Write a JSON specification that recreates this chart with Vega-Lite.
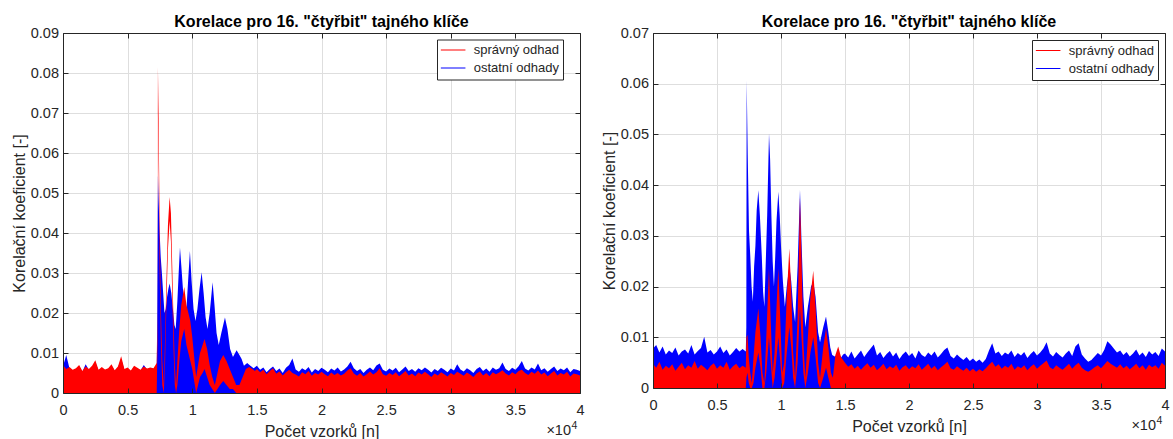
{
"$schema": "https://vega.github.io/schema/vega-lite/v6.json",
"padding": {"left": 11, "top": 13, "right": 2, "bottom": 0},
"background": "white",
"spacing": 16,
"config": {
  "font": "Liberation Sans",
  "view": {"stroke": null},
  "axis": {"labelColor": "#262626", "titleColor": "#262626", "labelFont": "Liberation Sans", "titleFont": "Liberation Sans", "labelFontSize": 14.5, "titleFontSize": 16, "titleFontWeight": "normal", "gridColor": "#dedede", "gridWidth": 1, "tickColor": "#262626", "domainColor": "#262626", "labelFlush": false, "labelOverlap": false},
  "title": {"font": "Liberation Sans", "fontSize": 16, "fontWeight": "bold", "color": "#000000", "offset": -4.8, "baseline": "alphabetic", "anchor": "middle"}
},
"resolve": {"scale": {"color": "independent"}},
"datasets": {
"Lo": [
{"x":0,"hi":0.0066},{"x":250,"hi":0.0095},{"x":500,"hi":0.0062},{"x":750,"hi":0.0056},{"x":1000,"hi":0.0060},{"x":1250,"hi":0.0066},{"x":1500,"hi":0.0053},{"x":1750,"hi":0.0072},{"x":2000,"hi":0.0058},{"x":2250,"hi":0.0064},{"x":2500,"hi":0.0076},{"x":2750,"hi":0.0056},{"x":3000,"hi":0.0062},{"x":3250,"hi":0.0057},{"x":3500,"hi":0.0060},{"x":3750,"hi":0.0068},{"x":4000,"hi":0.0055},{"x":4250,"hi":0.0063},{"x":4500,"hi":0.0085},{"x":4750,"hi":0.0058},{"x":5000,"hi":0.0061},{"x":5250,"hi":0.0054},{"x":5500,"hi":0.0065},{"x":5750,"hi":0.0061},{"x":6000,"hi":0.0056},{"x":6250,"hi":0.0070},{"x":6500,"hi":0.0059},{"x":6750,"hi":0.0061},{"x":7000,"hi":0.0060},
{"x":7250,"hi":0.0065},{"x":7280,"hi":0.012},{"x":7345,"hi":0.0544},{"x":7400,"hi":0.048},{"x":7480,"hi":0.040},{"x":7560,"hi":0.034},{"x":7650,"hi":0.030},{"x":7750,"hi":0.025},{"x":7850,"hi":0.020},{"x":7950,"hi":0.021},{"x":8050,"hi":0.024},{"x":8150,"hi":0.026},{"x":8250,"hi":0.0274},{"x":8380,"hi":0.025},{"x":8500,"hi":0.021},{"x":8620,"hi":0.017},{"x":8720,"hi":0.016},{"x":8850,"hi":0.023},{"x":8950,"hi":0.030},{"x":9050,"hi":0.0364},{"x":9150,"hi":0.032},{"x":9280,"hi":0.026},{"x":9420,"hi":0.021},{"x":9550,"hi":0.021},{"x":9680,"hi":0.028},{"x":9820,"hi":0.0355},{"x":9950,"hi":0.028},{"x":10100,"hi":0.021},{"x":10250,"hi":0.018},{"x":10400,"hi":0.021},{"x":10560,"hi":0.026},{"x":10725,"hi":0.0302},{"x":10880,"hi":0.025},{"x":11030,"hi":0.019},{"x":11180,"hi":0.016},{"x":11350,"hi":0.020},{"x":11575,"hi":0.0277},{"x":11720,"hi":0.022},{"x":11880,"hi":0.015},{"x":12050,"hi":0.012},{"x":12250,"hi":0.015},{"x":12530,"hi":0.0189},{"x":12720,"hi":0.016},{"x":12930,"hi":0.011},{"x":13150,"hi":0.009},{"x":13430,"hi":0.0107},{"x":13650,"hi":0.0095},{"x":13820,"hi":0.0085},{"x":14000,"hi":0.0068},{"x":14250,"hi":0.0075},{"x":14500,"hi":0.0068},{"x":14750,"hi":0.0062},
{"x":15000,"hi":0.0068},{"x":15250,"hi":0.0058},{"x":15500,"hi":0.0064},{"x":15750,"hi":0.0052},{"x":16000,"hi":0.0060},{"x":16250,"hi":0.0066},{"x":16500,"hi":0.0055},{"x":16750,"hi":0.0061},{"x":17000,"hi":0.0050},{"x":17250,"hi":0.0063},{"x":17500,"hi":0.0070},{"x":17750,"hi":0.0086},{"x":18000,"hi":0.0059},{"x":18250,"hi":0.0053},{"x":18500,"hi":0.0062},{"x":18750,"hi":0.0057},{"x":19000,"hi":0.0065},{"x":19250,"hi":0.0051},{"x":19500,"hi":0.0060},{"x":19750,"hi":0.0055},{"x":20000,"hi":0.0063},{"x":20250,"hi":0.0058},{"x":20500,"hi":0.0052},{"x":20750,"hi":0.0061},{"x":21000,"hi":0.0056},{"x":21250,"hi":0.0064},{"x":21500,"hi":0.0054},{"x":21750,"hi":0.0059},{"x":22000,"hi":0.0066},{"x":22250,"hi":0.0078},{"x":22500,"hi":0.0062},{"x":22750,"hi":0.0055},{"x":23000,"hi":0.0060},{"x":23250,"hi":0.0050},{"x":23500,"hi":0.0058},{"x":23750,"hi":0.0064},{"x":24000,"hi":0.0057},{"x":24250,"hi":0.0069},{"x":24500,"hi":0.0074},{"x":24750,"hi":0.0058},{"x":25000,"hi":0.0054},{"x":25250,"hi":0.0061},{"x":25500,"hi":0.0056},{"x":25750,"hi":0.0063},{"x":26000,"hi":0.0052},{"x":26250,"hi":0.0059},{"x":26500,"hi":0.0066},{"x":26750,"hi":0.0055},{"x":27000,"hi":0.0060},{"x":27250,"hi":0.0053},{"x":27500,"hi":0.0062},{"x":27750,"hi":0.0057},{"x":28000,"hi":0.0064},{"x":28250,"hi":0.0058},{"x":28500,"hi":0.0051},{"x":28750,"hi":0.0060},{"x":29000,"hi":0.0055},{"x":29250,"hi":0.0063},{"x":29500,"hi":0.0058},{"x":29750,"hi":0.0052},{"x":30000,"hi":0.0061},{"x":30250,"hi":0.0056},{"x":30500,"hi":0.0072},{"x":30750,"hi":0.0059},{"x":31000,"hi":0.0054},{"x":31250,"hi":0.0062},{"x":31500,"hi":0.0057},{"x":31750,"hi":0.0050},{"x":32000,"hi":0.0060},{"x":32250,"hi":0.0065},{"x":32500,"hi":0.0055},{"x":32750,"hi":0.0061},{"x":33000,"hi":0.0053},{"x":33250,"hi":0.0064},{"x":33500,"hi":0.0058},{"x":33750,"hi":0.0062},{"x":34000,"hi":0.0076},{"x":34250,"hi":0.0060},{"x":34500,"hi":0.0055},{"x":34750,"hi":0.0063},{"x":35000,"hi":0.0058},{"x":35250,"hi":0.0067},{"x":35500,"hi":0.0080},{"x":35750,"hi":0.0061},{"x":36000,"hi":0.0056},{"x":36250,"hi":0.0064},{"x":36500,"hi":0.0059},{"x":36750,"hi":0.0074},{"x":37000,"hi":0.0057},{"x":37250,"hi":0.0062},{"x":37500,"hi":0.0053},{"x":37750,"hi":0.0060},{"x":38000,"hi":0.0066},{"x":38250,"hi":0.0055},{"x":38500,"hi":0.0061},{"x":38750,"hi":0.0057},{"x":39000,"hi":0.0064},{"x":39250,"hi":0.0052},{"x":39500,"hi":0.0060},{"x":39750,"hi":0.0058},{"x":40000,"hi":0.0055}
],
"Ls": [
{"x":0,"hi":0.0070,"lo":0},{"x":250,"hi":0.0060,"lo":0},{"x":500,"hi":0.0065,"lo":0},{"x":750,"hi":0.0058,"lo":0},{"x":1000,"hi":0.0062,"lo":0},{"x":1250,"hi":0.0070,"lo":0},{"x":1500,"hi":0.0055,"lo":0},{"x":1750,"hi":0.0066,"lo":0},{"x":2000,"hi":0.0060,"lo":0},{"x":2250,"hi":0.0068,"lo":0},{"x":2500,"hi":0.0082,"lo":0},{"x":2750,"hi":0.0058,"lo":0},{"x":3000,"hi":0.0065,"lo":0},{"x":3250,"hi":0.0059,"lo":0},{"x":3500,"hi":0.0062,"lo":0},{"x":3750,"hi":0.0072,"lo":0},{"x":4000,"hi":0.0057,"lo":0},{"x":4250,"hi":0.0066,"lo":0},{"x":4500,"hi":0.0092,"lo":0},{"x":4750,"hi":0.0060,"lo":0},{"x":5000,"hi":0.0064,"lo":0},{"x":5250,"hi":0.0056,"lo":0},{"x":5500,"hi":0.0068,"lo":0},{"x":5750,"hi":0.0063,"lo":0},{"x":6000,"hi":0.0058,"lo":0},{"x":6250,"hi":0.0066,"lo":0},{"x":6500,"hi":0.0061,"lo":0},{"x":6750,"hi":0.0064,"lo":0},{"x":7000,"hi":0.0062,"lo":0},
{"x":7250,"hi":0.0075,"lo":0},{"x":7300,"hi":0.020,"lo":0.010},{"x":7345,"hi":0.0815,"lo":0.070},{"x":7400,"hi":0.068,"lo":0.055},{"x":7480,"hi":0.040,"lo":0.030},{"x":7580,"hi":0.020,"lo":0.012},{"x":7680,"hi":0.008,"lo":0.002},{"x":7800,"hi":0.002,"lo":0},{"x":7900,"hi":0.014,"lo":0.008},{"x":8000,"hi":0.028,"lo":0.022},{"x":8120,"hi":0.042,"lo":0.036},{"x":8250,"hi":0.049,"lo":0.043},{"x":8350,"hi":0.045,"lo":0.038},{"x":8450,"hi":0.032,"lo":0.025},{"x":8550,"hi":0.018,"lo":0.011},{"x":8650,"hi":0.007,"lo":0.002},{"x":8750,"hi":0.002,"lo":0},{"x":8850,"hi":0.008,"lo":0.002},{"x":9000,"hi":0.016,"lo":0.008},{"x":9150,"hi":0.022,"lo":0.013},{"x":9380,"hi":0.0265,"lo":0.016},{"x":9550,"hi":0.022,"lo":0.012},{"x":9700,"hi":0.020,"lo":0.010},{"x":9850,"hi":0.018,"lo":0.008},{"x":10000,"hi":0.014,"lo":0.006},{"x":10150,"hi":0.009,"lo":0.003},{"x":10300,"hi":0.004,"lo":0},{"x":10450,"hi":0.007,"lo":0.002},{"x":10600,"hi":0.010,"lo":0.004},{"x":10800,"hi":0.012,"lo":0.005},{"x":10950,"hi":0.0135,"lo":0.006},{"x":11150,"hi":0.011,"lo":0.004},{"x":11350,"hi":0.007,"lo":0.002},{"x":11550,"hi":0.004,"lo":0.001},{"x":11750,"hi":0.002,"lo":0},{"x":11950,"hi":0.005,"lo":0.001},{"x":12150,"hi":0.008,"lo":0.002},{"x":12400,"hi":0.0095,"lo":0.003},{"x":12650,"hi":0.008,"lo":0.002},{"x":12900,"hi":0.006,"lo":0.001},{"x":13150,"hi":0.004,"lo":0.001},{"x":13400,"hi":0.002,"lo":0},{"x":13650,"hi":0.002,"lo":0},{"x":13900,"hi":0.004,"lo":0},{"x":14150,"hi":0.006,"lo":0},{"x":14400,"hi":0.0065,"lo":0},{"x":14650,"hi":0.006,"lo":0},{"x":14850,"hi":0.0055,"lo":0},
{"x":15000,"hi":0.0060,"lo":0},{"x":15250,"hi":0.0052,"lo":0},{"x":15500,"hi":0.0058,"lo":0},{"x":15750,"hi":0.0047,"lo":0},{"x":16000,"hi":0.0055,"lo":0},{"x":16250,"hi":0.0062,"lo":0},{"x":16500,"hi":0.0048,"lo":0},{"x":16750,"hi":0.0054,"lo":0},{"x":17000,"hi":0.0044,"lo":0},{"x":17250,"hi":0.0052,"lo":0},{"x":17500,"hi":0.0058,"lo":0},{"x":17750,"hi":0.0050,"lo":0},{"x":18000,"hi":0.0046,"lo":0},{"x":18250,"hi":0.0041,"lo":0},{"x":18500,"hi":0.0052,"lo":0},{"x":18750,"hi":0.0047,"lo":0},{"x":19000,"hi":0.0055,"lo":0},{"x":19250,"hi":0.0043,"lo":0},{"x":19500,"hi":0.0050,"lo":0},{"x":19750,"hi":0.0046,"lo":0},{"x":20000,"hi":0.0053,"lo":0},{"x":20250,"hi":0.0047,"lo":0},{"x":20500,"hi":0.0042,"lo":0},{"x":20750,"hi":0.0051,"lo":0},{"x":21000,"hi":0.0045,"lo":0},{"x":21250,"hi":0.0050,"lo":0},{"x":21500,"hi":0.0044,"lo":0},{"x":21750,"hi":0.0048,"lo":0},{"x":22000,"hi":0.0056,"lo":0},{"x":22250,"hi":0.0062,"lo":0},{"x":22500,"hi":0.0049,"lo":0},{"x":22750,"hi":0.0043,"lo":0},{"x":23000,"hi":0.0050,"lo":0},{"x":23250,"hi":0.0041,"lo":0},{"x":23500,"hi":0.0047,"lo":0},{"x":23750,"hi":0.0054,"lo":0},{"x":24000,"hi":0.0046,"lo":0},{"x":24250,"hi":0.0052,"lo":0},{"x":24500,"hi":0.0062,"lo":0},{"x":24750,"hi":0.0047,"lo":0},{"x":25000,"hi":0.0043,"lo":0},{"x":25250,"hi":0.0050,"lo":0},{"x":25500,"hi":0.0045,"lo":0},{"x":25750,"hi":0.0052,"lo":0},{"x":26000,"hi":0.0042,"lo":0},{"x":26250,"hi":0.0048,"lo":0},{"x":26500,"hi":0.0055,"lo":0},{"x":26750,"hi":0.0044,"lo":0},{"x":27000,"hi":0.0049,"lo":0},{"x":27250,"hi":0.0042,"lo":0},{"x":27500,"hi":0.0051,"lo":0},{"x":27750,"hi":0.0046,"lo":0},{"x":28000,"hi":0.0053,"lo":0},{"x":28250,"hi":0.0047,"lo":0},{"x":28500,"hi":0.0040,"lo":0},{"x":28750,"hi":0.0049,"lo":0},{"x":29000,"hi":0.0044,"lo":0},{"x":29250,"hi":0.0052,"lo":0},{"x":29500,"hi":0.0047,"lo":0},{"x":29750,"hi":0.0041,"lo":0},{"x":30000,"hi":0.0050,"lo":0},{"x":30250,"hi":0.0045,"lo":0},{"x":30500,"hi":0.0053,"lo":0},{"x":30750,"hi":0.0048,"lo":0},{"x":31000,"hi":0.0043,"lo":0},{"x":31250,"hi":0.0051,"lo":0},{"x":31500,"hi":0.0046,"lo":0},{"x":31750,"hi":0.0040,"lo":0},{"x":32000,"hi":0.0049,"lo":0},{"x":32250,"hi":0.0054,"lo":0},{"x":32500,"hi":0.0044,"lo":0},{"x":32750,"hi":0.0050,"lo":0},{"x":33000,"hi":0.0042,"lo":0},{"x":33250,"hi":0.0052,"lo":0},{"x":33500,"hi":0.0047,"lo":0},{"x":33750,"hi":0.0051,"lo":0},{"x":34000,"hi":0.0057,"lo":0},{"x":34250,"hi":0.0049,"lo":0},{"x":34500,"hi":0.0044,"lo":0},{"x":34750,"hi":0.0052,"lo":0},{"x":35000,"hi":0.0047,"lo":0},{"x":35250,"hi":0.0055,"lo":0},{"x":35500,"hi":0.0058,"lo":0},{"x":35750,"hi":0.0050,"lo":0},{"x":36000,"hi":0.0045,"lo":0},{"x":36250,"hi":0.0053,"lo":0},{"x":36500,"hi":0.0048,"lo":0},{"x":36750,"hi":0.0056,"lo":0},{"x":37000,"hi":0.0046,"lo":0},{"x":37250,"hi":0.0051,"lo":0},{"x":37500,"hi":0.0042,"lo":0},{"x":37750,"hi":0.0049,"lo":0},{"x":38000,"hi":0.0055,"lo":0},{"x":38250,"hi":0.0044,"lo":0},{"x":38500,"hi":0.0050,"lo":0},{"x":38750,"hi":0.0046,"lo":0},{"x":39000,"hi":0.0053,"lo":0},{"x":39250,"hi":0.0041,"lo":0},{"x":39500,"hi":0.0049,"lo":0},{"x":39750,"hi":0.0047,"lo":0},{"x":40000,"hi":0.0044,"lo":0}
],
"Ro": [
{"x":0,"hi":0.0078},{"x":250,"hi":0.0085},{"x":500,"hi":0.0070},{"x":750,"hi":0.0082},{"x":1000,"hi":0.0066},{"x":1250,"hi":0.0074},{"x":1500,"hi":0.0069},{"x":1750,"hi":0.0080},{"x":2000,"hi":0.0064},{"x":2250,"hi":0.0072},{"x":2500,"hi":0.0076},{"x":2750,"hi":0.0068},{"x":3000,"hi":0.0085},{"x":3250,"hi":0.0066},{"x":3500,"hi":0.0073},{"x":3750,"hi":0.0079},{"x":4000,"hi":0.0101},{"x":4250,"hi":0.0070},{"x":4500,"hi":0.0075},{"x":4750,"hi":0.0066},{"x":5000,"hi":0.0072},{"x":5250,"hi":0.0082},{"x":5500,"hi":0.0069},{"x":5750,"hi":0.0076},{"x":6000,"hi":0.0064},{"x":6250,"hi":0.0071},{"x":6500,"hi":0.0079},{"x":6750,"hi":0.0072},{"x":7000,"hi":0.0077},
{"x":7250,"hi":0.0072},{"x":7290,"hi":0.012},{"x":7318,"hi":0.0607},{"x":7400,"hi":0.046},{"x":7500,"hi":0.031},{"x":7600,"hi":0.026},{"x":7700,"hi":0.020},{"x":7800,"hi":0.017},{"x":7900,"hi":0.024},{"x":8000,"hi":0.028},{"x":8100,"hi":0.035},{"x":8229,"hi":0.039},{"x":8350,"hi":0.034},{"x":8500,"hi":0.026},{"x":8600,"hi":0.019},{"x":8700,"hi":0.016},{"x":8800,"hi":0.024},{"x":8920,"hi":0.034},{"x":9063,"hi":0.0502},{"x":9150,"hi":0.045},{"x":9250,"hi":0.034},{"x":9350,"hi":0.025},{"x":9450,"hi":0.020},{"x":9550,"hi":0.026},{"x":9650,"hi":0.033},{"x":9792,"hi":0.0387},{"x":9900,"hi":0.034},{"x":10000,"hi":0.028},{"x":10150,"hi":0.021},{"x":10300,"hi":0.016},{"x":10450,"hi":0.020},{"x":10650,"hi":0.024},{"x":10800,"hi":0.021},{"x":10950,"hi":0.016},{"x":11100,"hi":0.013},{"x":11300,"hi":0.024},{"x":11484,"hi":0.0391},{"x":11600,"hi":0.029},{"x":11750,"hi":0.018},{"x":11900,"hi":0.012},{"x":12100,"hi":0.016},{"x":12350,"hi":0.020},{"x":12520,"hi":0.021},{"x":12700,"hi":0.018},{"x":12900,"hi":0.011},{"x":13050,"hi":0.009},{"x":13300,"hi":0.012},{"x":13516,"hi":0.0141},{"x":13700,"hi":0.011},{"x":13850,"hi":0.008},{"x":14000,"hi":0.0065},{"x":14200,"hi":0.0062},{"x":14470,"hi":0.0068},{"x":14700,"hi":0.0060},{"x":14850,"hi":0.0066},
{"x":15000,"hi":0.0068},{"x":15250,"hi":0.0060},{"x":15500,"hi":0.0072},{"x":15750,"hi":0.0058},{"x":16000,"hi":0.0066},{"x":16250,"hi":0.0074},{"x":16500,"hi":0.0061},{"x":16750,"hi":0.0070},{"x":17000,"hi":0.0078},{"x":17250,"hi":0.0086},{"x":17500,"hi":0.0064},{"x":17750,"hi":0.0071},{"x":18000,"hi":0.0059},{"x":18250,"hi":0.0067},{"x":18500,"hi":0.0073},{"x":18750,"hi":0.0062},{"x":19000,"hi":0.0070},{"x":19250,"hi":0.0057},{"x":19500,"hi":0.0066},{"x":19750,"hi":0.0072},{"x":20000,"hi":0.0063},{"x":20250,"hi":0.0069},{"x":20500,"hi":0.0058},{"x":20750,"hi":0.0074},{"x":21000,"hi":0.0065},{"x":21250,"hi":0.0061},{"x":21500,"hi":0.0070},{"x":21750,"hi":0.0064},{"x":22000,"hi":0.0072},{"x":22250,"hi":0.0060},{"x":22500,"hi":0.0067},{"x":22750,"hi":0.0075},{"x":23000,"hi":0.0080},{"x":23250,"hi":0.0063},{"x":23500,"hi":0.0058},{"x":23750,"hi":0.0066},{"x":24000,"hi":0.0060},{"x":24250,"hi":0.0055},{"x":24500,"hi":0.0061},{"x":24750,"hi":0.0053},{"x":25000,"hi":0.0058},{"x":25250,"hi":0.0052},{"x":25500,"hi":0.0056},{"x":25750,"hi":0.0050},{"x":26000,"hi":0.0057},{"x":26250,"hi":0.0074},{"x":26500,"hi":0.0088},{"x":26750,"hi":0.0068},{"x":27000,"hi":0.0072},{"x":27250,"hi":0.0063},{"x":27500,"hi":0.0070},{"x":27750,"hi":0.0066},{"x":28000,"hi":0.0074},{"x":28250,"hi":0.0061},{"x":28500,"hi":0.0069},{"x":28750,"hi":0.0064},{"x":29000,"hi":0.0071},{"x":29250,"hi":0.0059},{"x":29500,"hi":0.0067},{"x":29750,"hi":0.0073},{"x":30000,"hi":0.0064},{"x":30250,"hi":0.0070},{"x":30500,"hi":0.0078},{"x":30750,"hi":0.0090},{"x":31000,"hi":0.0068},{"x":31250,"hi":0.0062},{"x":31500,"hi":0.0071},{"x":31750,"hi":0.0065},{"x":32000,"hi":0.0060},{"x":32250,"hi":0.0068},{"x":32500,"hi":0.0074},{"x":32750,"hi":0.0063},{"x":33000,"hi":0.0082},{"x":33250,"hi":0.0088},{"x":33500,"hi":0.0066},{"x":33750,"hi":0.0058},{"x":34000,"hi":0.0052},{"x":34250,"hi":0.0055},{"x":34500,"hi":0.0062},{"x":34750,"hi":0.0069},{"x":35000,"hi":0.0064},{"x":35250,"hi":0.0075},{"x":35500,"hi":0.0092},{"x":35750,"hi":0.0086},{"x":36000,"hi":0.0078},{"x":36250,"hi":0.0070},{"x":36500,"hi":0.0074},{"x":36750,"hi":0.0065},{"x":37000,"hi":0.0071},{"x":37250,"hi":0.0062},{"x":37500,"hi":0.0068},{"x":37750,"hi":0.0076},{"x":38000,"hi":0.0064},{"x":38250,"hi":0.0070},{"x":38500,"hi":0.0061},{"x":38750,"hi":0.0073},{"x":39000,"hi":0.0066},{"x":39250,"hi":0.0071},{"x":39500,"hi":0.0063},{"x":39750,"hi":0.0078},{"x":40000,"hi":0.0072}
],
"Rs": [
{"x":0,"hi":0.0048,"lo":0},{"x":250,"hi":0.0040,"lo":0},{"x":500,"hi":0.0052,"lo":0},{"x":750,"hi":0.0036,"lo":0},{"x":1000,"hi":0.0044,"lo":0},{"x":1250,"hi":0.0039,"lo":0},{"x":1500,"hi":0.0047,"lo":0},{"x":1750,"hi":0.0034,"lo":0},{"x":2000,"hi":0.0042,"lo":0},{"x":2250,"hi":0.0050,"lo":0},{"x":2500,"hi":0.0037,"lo":0},{"x":2750,"hi":0.0045,"lo":0},{"x":3000,"hi":0.0040,"lo":0},{"x":3250,"hi":0.0053,"lo":0},{"x":3500,"hi":0.0038,"lo":0},{"x":3750,"hi":0.0046,"lo":0},{"x":4000,"hi":0.0041,"lo":0},{"x":4250,"hi":0.0035,"lo":0},{"x":4500,"hi":0.0044,"lo":0},{"x":4750,"hi":0.0049,"lo":0},{"x":5000,"hi":0.0038,"lo":0},{"x":5250,"hi":0.0045,"lo":0},{"x":5500,"hi":0.0040,"lo":0},{"x":5750,"hi":0.0052,"lo":0},{"x":6000,"hi":0.0036,"lo":0},{"x":6250,"hi":0.0043,"lo":0},{"x":6500,"hi":0.0048,"lo":0},{"x":6750,"hi":0.0039,"lo":0},{"x":7000,"hi":0.0044,"lo":0},
{"x":7250,"hi":0.0040,"lo":0},{"x":7300,"hi":0.0100,"lo":0.002},{"x":7380,"hi":0.0105,"lo":0.003},{"x":7480,"hi":0.006,"lo":0.001},{"x":7600,"hi":0.003,"lo":0},{"x":7720,"hi":0.001,"lo":0},{"x":7850,"hi":0.006,"lo":0.001},{"x":8000,"hi":0.011,"lo":0.004},{"x":8230,"hi":0.0157,"lo":0.007},{"x":8400,"hi":0.010,"lo":0.004},{"x":8550,"hi":0.003,"lo":0},{"x":8700,"hi":0.001,"lo":0},{"x":8850,"hi":0.010,"lo":0.003},{"x":9060,"hi":0.0236,"lo":0.010},{"x":9200,"hi":0.013,"lo":0.005},{"x":9350,"hi":0.003,"lo":0},{"x":9500,"hi":0.007,"lo":0.002},{"x":9650,"hi":0.016,"lo":0.006},{"x":9790,"hi":0.0236,"lo":0.010},{"x":9950,"hi":0.013,"lo":0.005},{"x":10100,"hi":0.003,"lo":0},{"x":10250,"hi":0.005,"lo":0.001},{"x":10450,"hi":0.018,"lo":0.007},{"x":10650,"hi":0.0275,"lo":0.012},{"x":10800,"hi":0.019,"lo":0.008},{"x":10950,"hi":0.007,"lo":0.002},{"x":11100,"hi":0.002,"lo":0},{"x":11300,"hi":0.014,"lo":0.005},{"x":11480,"hi":0.0375,"lo":0.016},{"x":11600,"hi":0.026,"lo":0.010},{"x":11750,"hi":0.009,"lo":0.003},{"x":11900,"hi":0.002,"lo":0},{"x":12100,"hi":0.010,"lo":0.003},{"x":12300,"hi":0.018,"lo":0.007},{"x":12520,"hi":0.0231,"lo":0.010},{"x":12700,"hi":0.016,"lo":0.006},{"x":12900,"hi":0.005,"lo":0.001},{"x":13050,"hi":0.002,"lo":0},{"x":13300,"hi":0.008,"lo":0.002},{"x":13520,"hi":0.0118,"lo":0.004},{"x":13700,"hi":0.008,"lo":0.002},{"x":13900,"hi":0.003,"lo":0},{"x":14050,"hi":0.002,"lo":0},{"x":14250,"hi":0.0065,"lo":0},{"x":14470,"hi":0.0082,"lo":0},{"x":14700,"hi":0.006,"lo":0},{"x":14850,"hi":0.0055,"lo":0},
{"x":15000,"hi":0.0050,"lo":0},{"x":15250,"hi":0.0042,"lo":0},{"x":15500,"hi":0.0047,"lo":0},{"x":15750,"hi":0.0038,"lo":0},{"x":16000,"hi":0.0044,"lo":0},{"x":16250,"hi":0.0036,"lo":0},{"x":16500,"hi":0.0043,"lo":0},{"x":16750,"hi":0.0049,"lo":0},{"x":17000,"hi":0.0040,"lo":0},{"x":17250,"hi":0.0046,"lo":0},{"x":17500,"hi":0.0035,"lo":0},{"x":17750,"hi":0.0041,"lo":0},{"x":18000,"hi":0.0048,"lo":0},{"x":18250,"hi":0.0037,"lo":0},{"x":18500,"hi":0.0043,"lo":0},{"x":18750,"hi":0.0039,"lo":0},{"x":19000,"hi":0.0046,"lo":0},{"x":19250,"hi":0.0034,"lo":0},{"x":19500,"hi":0.0041,"lo":0},{"x":19750,"hi":0.0045,"lo":0},{"x":20000,"hi":0.0037,"lo":0},{"x":20250,"hi":0.0043,"lo":0},{"x":20500,"hi":0.0039,"lo":0},{"x":20750,"hi":0.0047,"lo":0},{"x":21000,"hi":0.0036,"lo":0},{"x":21250,"hi":0.0042,"lo":0},{"x":21500,"hi":0.0048,"lo":0},{"x":21750,"hi":0.0038,"lo":0},{"x":22000,"hi":0.0044,"lo":0},{"x":22250,"hi":0.0035,"lo":0},{"x":22500,"hi":0.0041,"lo":0},{"x":22750,"hi":0.0046,"lo":0},{"x":23000,"hi":0.0052,"lo":0},{"x":23250,"hi":0.0039,"lo":0},{"x":23500,"hi":0.0036,"lo":0},{"x":23750,"hi":0.0043,"lo":0},{"x":24000,"hi":0.0038,"lo":0},{"x":24250,"hi":0.0034,"lo":0},{"x":24500,"hi":0.0040,"lo":0},{"x":24750,"hi":0.0033,"lo":0},{"x":25000,"hi":0.0038,"lo":0},{"x":25250,"hi":0.0032,"lo":0},{"x":25500,"hi":0.0037,"lo":0},{"x":25750,"hi":0.0033,"lo":0},{"x":26000,"hi":0.0039,"lo":0},{"x":26250,"hi":0.0046,"lo":0},{"x":26500,"hi":0.0052,"lo":0},{"x":26750,"hi":0.0042,"lo":0},{"x":27000,"hi":0.0047,"lo":0},{"x":27250,"hi":0.0038,"lo":0},{"x":27500,"hi":0.0044,"lo":0},{"x":27750,"hi":0.0040,"lo":0},{"x":28000,"hi":0.0048,"lo":0},{"x":28250,"hi":0.0036,"lo":0},{"x":28500,"hi":0.0043,"lo":0},{"x":28750,"hi":0.0039,"lo":0},{"x":29000,"hi":0.0045,"lo":0},{"x":29250,"hi":0.0035,"lo":0},{"x":29500,"hi":0.0042,"lo":0},{"x":29750,"hi":0.0047,"lo":0},{"x":30000,"hi":0.0038,"lo":0},{"x":30250,"hi":0.0044,"lo":0},{"x":30500,"hi":0.0049,"lo":0},{"x":30750,"hi":0.0054,"lo":0},{"x":31000,"hi":0.0041,"lo":0},{"x":31250,"hi":0.0037,"lo":0},{"x":31500,"hi":0.0045,"lo":0},{"x":31750,"hi":0.0040,"lo":0},{"x":32000,"hi":0.0036,"lo":0},{"x":32250,"hi":0.0042,"lo":0},{"x":32500,"hi":0.0048,"lo":0},{"x":32750,"hi":0.0038,"lo":0},{"x":33000,"hi":0.0045,"lo":0},{"x":33250,"hi":0.0050,"lo":0},{"x":33500,"hi":0.0040,"lo":0},{"x":33750,"hi":0.0035,"lo":0},{"x":34000,"hi":0.0032,"lo":0},{"x":34250,"hi":0.0036,"lo":0},{"x":34500,"hi":0.0041,"lo":0},{"x":34750,"hi":0.0045,"lo":0},{"x":35000,"hi":0.0039,"lo":0},{"x":35250,"hi":0.0046,"lo":0},{"x":35500,"hi":0.0053,"lo":0},{"x":35750,"hi":0.0048,"lo":0},{"x":36000,"hi":0.0044,"lo":0},{"x":36250,"hi":0.0040,"lo":0},{"x":36500,"hi":0.0047,"lo":0},{"x":36750,"hi":0.0039,"lo":0},{"x":37000,"hi":0.0044,"lo":0},{"x":37250,"hi":0.0037,"lo":0},{"x":37500,"hi":0.0042,"lo":0},{"x":37750,"hi":0.0048,"lo":0},{"x":38000,"hi":0.0039,"lo":0},{"x":38250,"hi":0.0045,"lo":0},{"x":38500,"hi":0.0036,"lo":0},{"x":38750,"hi":0.0046,"lo":0},{"x":39000,"hi":0.0041,"lo":0},{"x":39250,"hi":0.0045,"lo":0},{"x":39500,"hi":0.0038,"lo":0},{"x":39750,"hi":0.0050,"lo":0},{"x":40000,"hi":0.0044,"lo":0}
]
},
"hconcat": [
{
  "width": 517, "height": 360,
  "title": {"text": "Korelace pro 16. \"čtyřbit\" tajného klíče"},
  "resolve": {"axis": {"x": "independent", "y": "independent"}},
  "layer": [
    {
      "data": {"name": "Lo"},
      "mark": {"type": "area"},
      "encoding": {
        "x": {"field": "x", "type": "quantitative", "scale": {"domain": [0, 40000], "nice": false, "zero": false},
              "axis": {"orient": "bottom", "values": [0,5000,10000,15000,20000,25000,30000,35000,40000], "labelExpr": "datum.value/10000", "grid": true, "ticks": false, "domain": false, "labelPadding": 10, "title": "Počet vzorků [n]", "titlePadding": 6.5, "zindex": 0}},
        "y": {"field": "hi", "type": "quantitative", "scale": {"domain": [0, 0.09], "nice": false},
              "axis": {"orient": "left", "values": [0,0.01,0.02,0.03,0.04,0.05,0.06,0.07,0.08,0.09], "format": ".2~f", "grid": true, "ticks": false, "domain": false, "labelPadding": 4.5, "title": "Korelační koeficient [-]", "titlePadding": 3, "zindex": 0}},
        "color": {"datum": "ostatní odhady", "type": "nominal",
                  "scale": {"domain": ["správný odhad", "ostatní odhady"], "range": ["#ff0000", "#0000ff"]},
                  "legend": {"orient": "none", "legendX": 374, "legendY": 6.5, "title": null, "symbolType": "M-2.05,0H2.05", "symbolSize": 144, "symbolStrokeWidth": 1, "symbolOffset": 5.65, "labelOffset": 14, "labelFontSize": 13, "labelFont": "Liberation Sans", "labelColor": "#262626", "padding": 4, "rowPadding": 4, "fillColor": "#ffffff", "strokeColor": "#262626",
                             "encode": {"symbols": {"update": {"stroke": {"signal": "datum.value === 'správný odhad' ? '#ff0000' : '#0000ff'"}, "strokeWidth": {"value": 1}, "fill": {"value": "transparent"}}}}}}
      }
    },
    {
      "data": {"name": "Ls"},
      "mark": {"type": "area"},
      "encoding": {
        "x": {"field": "x", "type": "quantitative", "axis": {"orient": "bottom", "values": [0,5000,10000,15000,20000,25000,30000,35000,40000], "grid": false, "labels": false, "ticks": true, "tickSize": -5, "domain": true, "title": null, "zindex": 1}},
        "y": {"field": "hi", "type": "quantitative", "axis": {"orient": "left", "values": [0,0.01,0.02,0.03,0.04,0.05,0.06,0.07,0.08,0.09], "grid": false, "labels": false, "ticks": true, "tickSize": -5, "domain": true, "title": null, "zindex": 1}},
        "y2": {"field": "lo"},
        "color": {"datum": "správný odhad", "type": "nominal"}
      }
    },
    {
      "data": {"values": [{"t": "×10"}]},
      "mark": {"type": "text", "align": "right", "baseline": "alphabetic", "dx": -9, "dy": 42, "fontSize": 14.5, "font": "Liberation Sans", "color": "#262626"},
      "encoding": {
        "x": {"datum": 40000, "type": "quantitative", "axis": {"orient": "top", "values": [0,5000,10000,15000,20000,25000,30000,35000,40000], "grid": false, "labels": false, "ticks": true, "tickSize": -5, "domain": true, "title": null, "zindex": 1}},
        "y": {"datum": 0, "type": "quantitative", "axis": {"orient": "right", "values": [0,0.01,0.02,0.03,0.04,0.05,0.06,0.07,0.08,0.09], "grid": false, "labels": false, "ticks": true, "tickSize": -5, "domain": true, "title": null, "zindex": 1}},
        "text": {"field": "t"}
      }
    },
    {
      "data": {"values": [{"t": "4"}]},
      "mark": {"type": "text", "align": "left", "baseline": "alphabetic", "dx": -8.5, "dy": 35.5, "fontSize": 10.5, "font": "Liberation Sans", "color": "#262626"},
      "encoding": {
        "x": {"datum": 40000, "type": "quantitative", "axis": null},
        "y": {"datum": 0, "type": "quantitative", "axis": null},
        "text": {"field": "t"}
      }
    }
  ]
},
{
  "width": 512, "height": 355,
  "title": {"text": "Korelace pro 16. \"čtyřbit\" tajného klíče"},
  "resolve": {"axis": {"x": "independent", "y": "independent"}},
  "layer": [
    {
      "data": {"name": "Ro"},
      "mark": {"type": "area"},
      "encoding": {
        "x": {"field": "x", "type": "quantitative", "scale": {"domain": [0, 40000], "nice": false, "zero": false},
              "axis": {"orient": "bottom", "values": [0,5000,10000,15000,20000,25000,30000,35000,40000], "labelExpr": "datum.value/10000", "grid": true, "ticks": false, "domain": false, "labelPadding": 10, "title": "Počet vzorků [n]", "titlePadding": 6.5, "zindex": 0}},
        "y": {"field": "hi", "type": "quantitative", "scale": {"domain": [0, 0.07], "nice": false},
              "axis": {"orient": "left", "values": [0,0.01,0.02,0.03,0.04,0.05,0.06,0.07], "format": ".2~f", "grid": true, "ticks": false, "domain": false, "labelPadding": 4.5, "title": "Korelační koeficient [-]", "titlePadding": 3, "zindex": 0}},
        "color": {"datum": "ostatní odhady", "type": "nominal",
                  "scale": {"domain": ["správný odhad", "ostatní odhady"], "range": ["#ff0000", "#0000ff"]},
                  "legend": {"orient": "none", "legendX": 379, "legendY": 7, "title": null, "symbolType": "M-2.05,0H2.05", "symbolSize": 144, "symbolStrokeWidth": 1, "symbolOffset": 5.65, "labelOffset": 14, "labelFontSize": 13, "labelFont": "Liberation Sans", "labelColor": "#262626", "padding": 4, "rowPadding": 4, "fillColor": "#ffffff", "strokeColor": "#262626",
                             "encode": {"symbols": {"update": {"stroke": {"signal": "datum.value === 'správný odhad' ? '#ff0000' : '#0000ff'"}, "strokeWidth": {"value": 1}, "fill": {"value": "transparent"}}}}}}
      }
    },
    {
      "data": {"name": "Rs"},
      "mark": {"type": "area"},
      "encoding": {
        "x": {"field": "x", "type": "quantitative", "axis": {"orient": "bottom", "values": [0,5000,10000,15000,20000,25000,30000,35000,40000], "grid": false, "labels": false, "ticks": true, "tickSize": -5, "domain": true, "title": null, "zindex": 1}},
        "y": {"field": "hi", "type": "quantitative", "axis": {"orient": "left", "values": [0,0.01,0.02,0.03,0.04,0.05,0.06,0.07], "grid": false, "labels": false, "ticks": true, "tickSize": -5, "domain": true, "title": null, "zindex": 1}},
        "y2": {"field": "lo"},
        "color": {"datum": "správný odhad", "type": "nominal"}
      }
    },
    {
      "data": {"values": [{"t": "×10"}]},
      "mark": {"type": "text", "align": "right", "baseline": "alphabetic", "dx": -9, "dy": 42, "fontSize": 14.5, "font": "Liberation Sans", "color": "#262626"},
      "encoding": {
        "x": {"datum": 40000, "type": "quantitative", "axis": {"orient": "top", "values": [0,5000,10000,15000,20000,25000,30000,35000,40000], "grid": false, "labels": false, "ticks": true, "tickSize": -5, "domain": true, "title": null, "zindex": 1}},
        "y": {"datum": 0, "type": "quantitative", "axis": {"orient": "right", "values": [0,0.01,0.02,0.03,0.04,0.05,0.06,0.07], "grid": false, "labels": false, "ticks": true, "tickSize": -5, "domain": true, "title": null, "zindex": 1}},
        "text": {"field": "t"}
      }
    },
    {
      "data": {"values": [{"t": "4"}]},
      "mark": {"type": "text", "align": "left", "baseline": "alphabetic", "dx": -8.5, "dy": 35.5, "fontSize": 10.5, "font": "Liberation Sans", "color": "#262626"},
      "encoding": {
        "x": {"datum": 40000, "type": "quantitative", "axis": null},
        "y": {"datum": 0, "type": "quantitative", "axis": null},
        "text": {"field": "t"}
      }
    }
  ]
}
]
}
